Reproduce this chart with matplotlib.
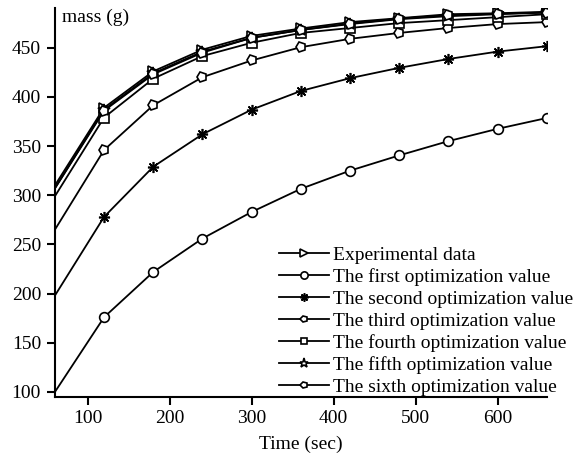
import matplotlib
matplotlib.use("Agg")
import matplotlib.pyplot as plt
from matplotlib.markers import MarkerStyle
from matplotlib.transforms import Affine2D

plt.rcParams['font.family'] = ['Liberation Serif', 'DejaVu Serif']

time = [60, 120, 180, 240, 300, 360, 420, 480, 540, 600, 660]
experimental = [310, 389, 426, 448, 462, 469.5, 476, 480, 484, 485, 486.5]
first = [100, 176, 222, 256, 283, 306.5, 325, 340.5, 355, 367.5, 378.5]
second = [198, 278, 329, 362, 387, 406, 419, 429.5, 438.5, 446, 451.5]
third = [265, 346, 391.5, 420, 437, 450.5, 459, 465, 470, 474, 476]
fourth = [299, 379, 418.5, 441.5, 455, 465, 470, 475, 478, 481, 484]
fifth = [307, 387, 424, 446, 460, 468, 474, 479, 482, 484, 486]
sixth = [307, 386, 423, 445, 460, 468, 474.5, 479.5, 483, 484.5, 485.5]

labels = ["Experimental data", "The first optimization value",
          "The second optimization value", "The third optimization value",
          "The fourth optimization value", "The fifth optimization value",
          "The sixth optimization value"]

pent_left = MarkerStyle('p', transform=Affine2D().rotate_deg(90))

fig = plt.figure(figsize=(5.78, 4.61), dpi=100)
ax = fig.add_axes([0.095, 0.138, 0.851, 0.845])

styles = [
    (experimental, '>', 7),
    (first, 'o', 7),
    (second, (8, 2, 0), 8),
    (third, pent_left, 7),
    (fourth, 's', 6.5),
    (fifth, '*', 9),
    (sixth, pent_left, 7),
]
for (vals, m, ms), lab in zip(styles, labels):
    ax.plot(time, vals, color='black', lw=1.3, marker=m, ms=ms,
            mfc='white', mec='black', mew=1.2, label=lab,
            markevery=slice(1, None))

ax.set_xlim(60, 660)
ax.set_ylim(94.5, 490.5)
ax.set_xticks([100, 200, 300, 400, 500, 600])
ax.set_yticks([100, 150, 200, 250, 300, 350, 400, 450])
for s in ['top', 'right']:
    ax.spines[s].set_visible(False)
for s in ['left', 'bottom']:
    ax.spines[s].set_linewidth(1.5)
ax.tick_params(axis='both', direction='out', length=5.5, width=1.5,
               labelsize=14, colors='black')
ax.tick_params(axis='y', pad=4.5)
ax.set_xlabel("Time (sec)", fontsize=14, labelpad=6)
ax.text(0.014, 0.998, "mass (g)", transform=ax.transAxes, fontsize=14,
        ha='left', va='top')

fig.legend(loc='lower right', bbox_to_anchor=(0.992, 0.141), frameon=False,
           fontsize=14, handlelength=2.6, handletextpad=0.2,
           labelspacing=0.22, borderpad=0, borderaxespad=0, markerscale=0.75)

fig.savefig("out.png", dpi=100)
